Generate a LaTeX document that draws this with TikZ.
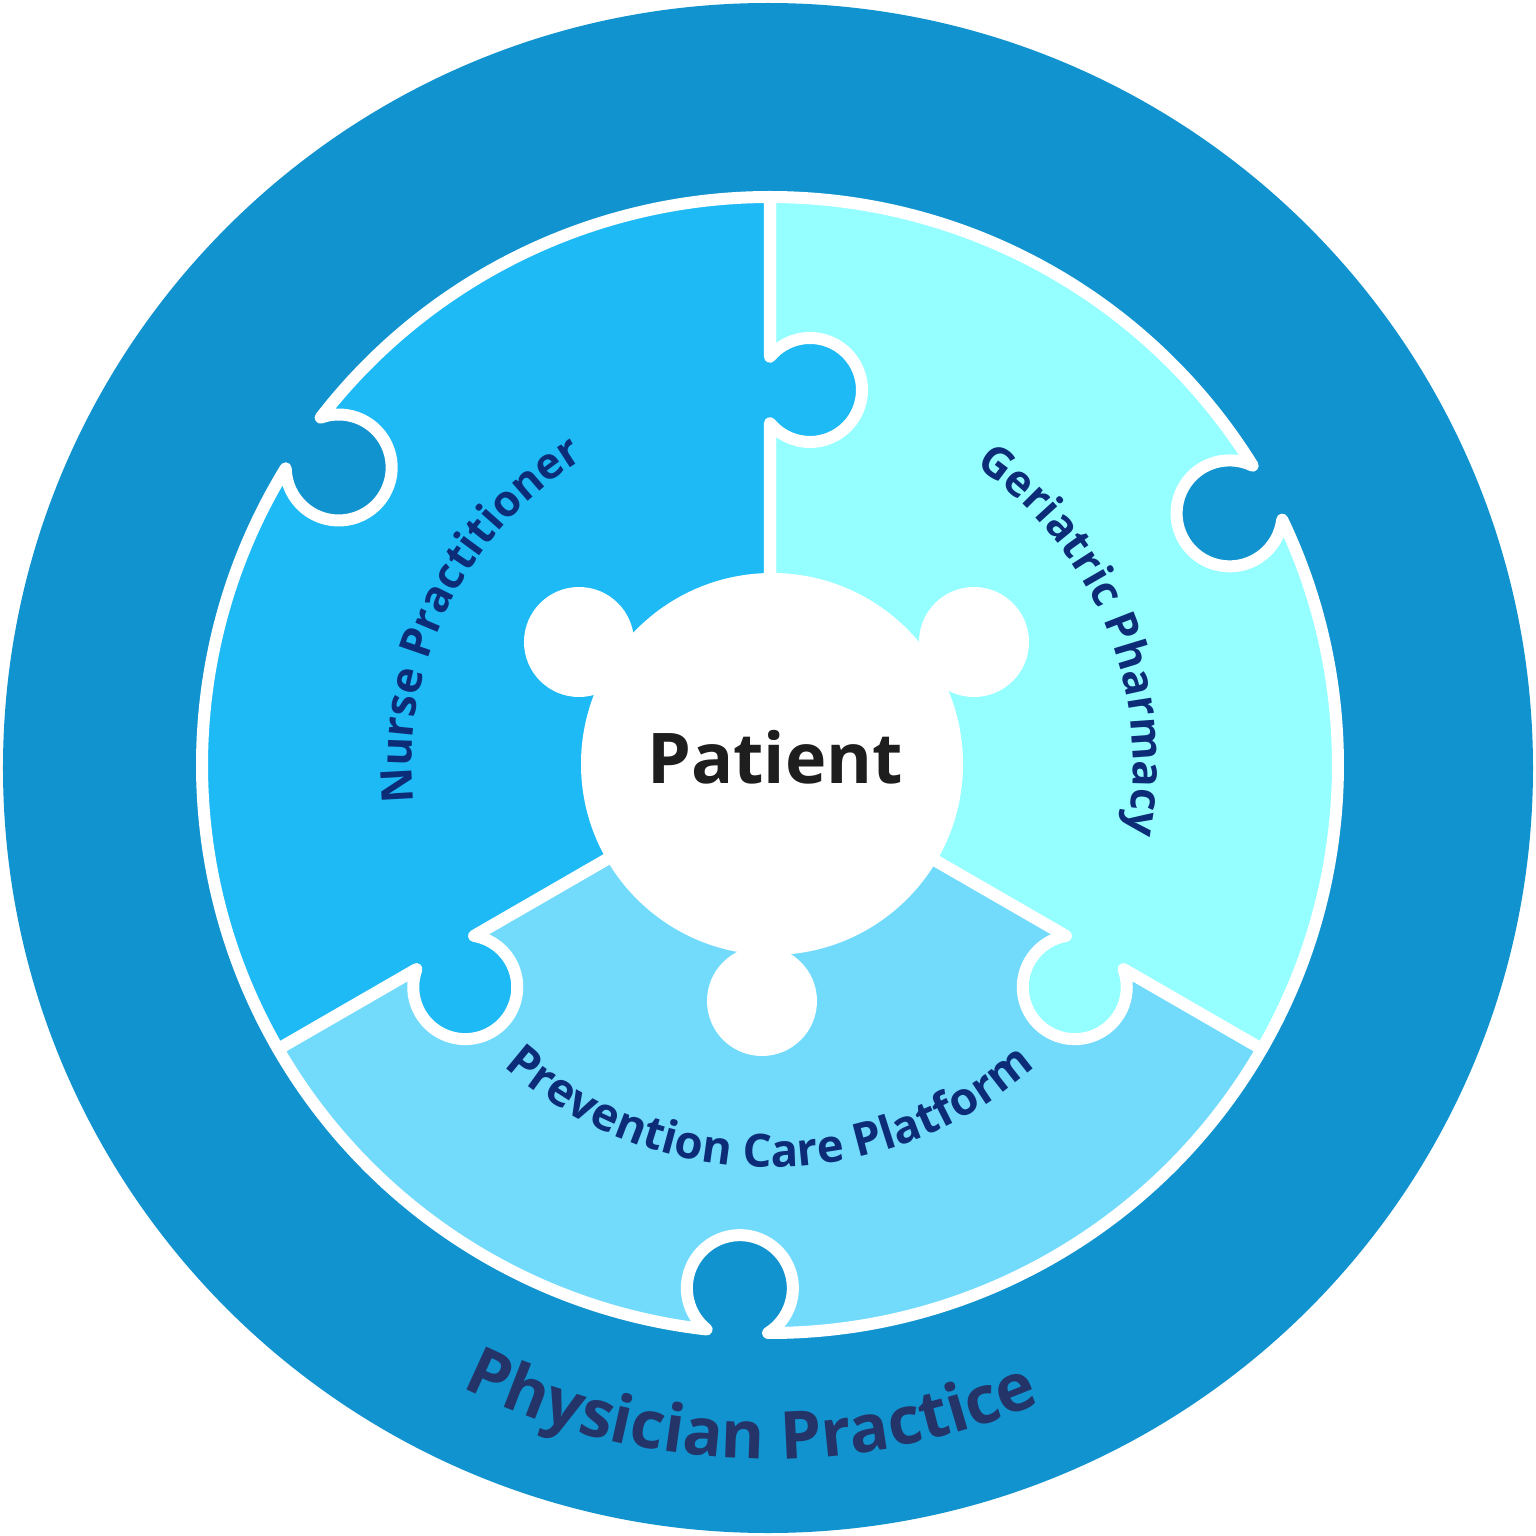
\documentclass[tikz,border=0pt]{standalone}
\usepackage{fontspec}
\setmainfont{Open Sans}
\usetikzlibrary{decorations.text}
\definecolor{outerblue}{HTML}{1093CF}
\definecolor{nurseblue}{HTML}{1DBAF6}
\definecolor{geriblue}{HTML}{95FFFF}
\definecolor{prevblue}{HTML}{72DBFC}
\definecolor{labnavy}{HTML}{0D2C78}
\definecolor{physnavy}{HTML}{243468}
\definecolor{patientblack}{HTML}{1E1E1E}
\newcommand{\labfont}{\bfseries\fontsize{12.4}{15}\selectfont}
\newcommand{\labfontb}{\bfseries\fontsize{13}{15}\selectfont}
\newcommand{\physfont}{\bfseries\fontsize{18.8}{22}\selectfont}
\begin{document}
\begin{tikzpicture}[x=0.01cm,y=0.01cm,
  piece/.style={draw=white, line width=0.12cm, line join=round},
  curvelabel/.style={decorate, decoration={text along path, text align=center, text color=labnavy, text={|\labfont|#1}}},
  curvelabelb/.style={decorate, decoration={text along path, text align=center, text color=labnavy, text={|\labfontb|#1}}},
  physlabel/.style={decorate, decoration={text along path, text align=center, text color=physnavy, text={|\physfont|#1}}}
]
\fill[white] (-768,-768) rectangle (768,768);
\useasboundingbox (-768,-768) rectangle (768,768);
% outer ring
\fill[outerblue] (0,0) circle[radius=765];
\path[physlabel={Physician Practice}] (198.5:691) arc[start angle=198.5, end angle=338.5, radius=691];
\begin{scope}[shift={(2,3)}]
% Prevention (bottom)
\path[piece, fill=prevblue] (0,0) -- (210:568)
  arc[start angle=210, end angle=263.596, radius=568]
  arc[start angle=231.23, end angle=-57.83, radius=53]
  -- (269.804:568) arc[start angle=269.804, end angle=330, radius=568] -- cycle;
% Geriatric (right)
\path[piece, fill=geriblue] (0,0) -- (330:341.8)
  arc[start angle=99.7, end angle=380.3, radius=52]
  -- (330:568) arc[start angle=-30, end angle=25.596, radius=568]
  arc[start angle=-6.77, end angle=-295.83, radius=53]
  -- (31.804:568) arc[start angle=31.804, end angle=90, radius=568] -- cycle;
% Nurse (left)
\path[piece, fill=nurseblue] (0,0) -- (90:341.8)
  arc[start angle=219.7, end angle=500.3, radius=52]
  -- (90:568) arc[start angle=90, end angle=142.296, radius=568]
  arc[start angle=109.93, end angle=-179.13, radius=53]
  -- (148.504:568) arc[start angle=148.504, end angle=210, radius=568]
  -- (210:408.2) arc[start angle=159.7, end angle=440.3, radius=52] -- cycle;
% Patient blob
\fill[white] (2,1) circle[radius=191];
\fill[white] (-191,123) circle[radius=55];
\fill[white] (204,123) circle[radius=55];
\fill[white] (-8,-236) circle[radius=55];
\node[anchor=base, font=\bfseries\fontsize{19.9}{24}\selectfont, text=patientblack, inner sep=0pt] (patient) at (5,-18) {Patient};
% curved labels
\path[curvelabel={Nurse Practitioner}] (223.6:358) arc[start angle=223.6, end angle=83.6, radius=358];
\path[curvelabel={Geriatric Pharmacy}] (92.3:363) arc[start angle=92.3, end angle=-47.7, radius=363];
\path[curvelabelb={Prevention Care Platform}] (199.9:402) arc[start angle=199.9, end angle=339.9, radius=402];
\end{scope}
\end{tikzpicture}
\end{document}
